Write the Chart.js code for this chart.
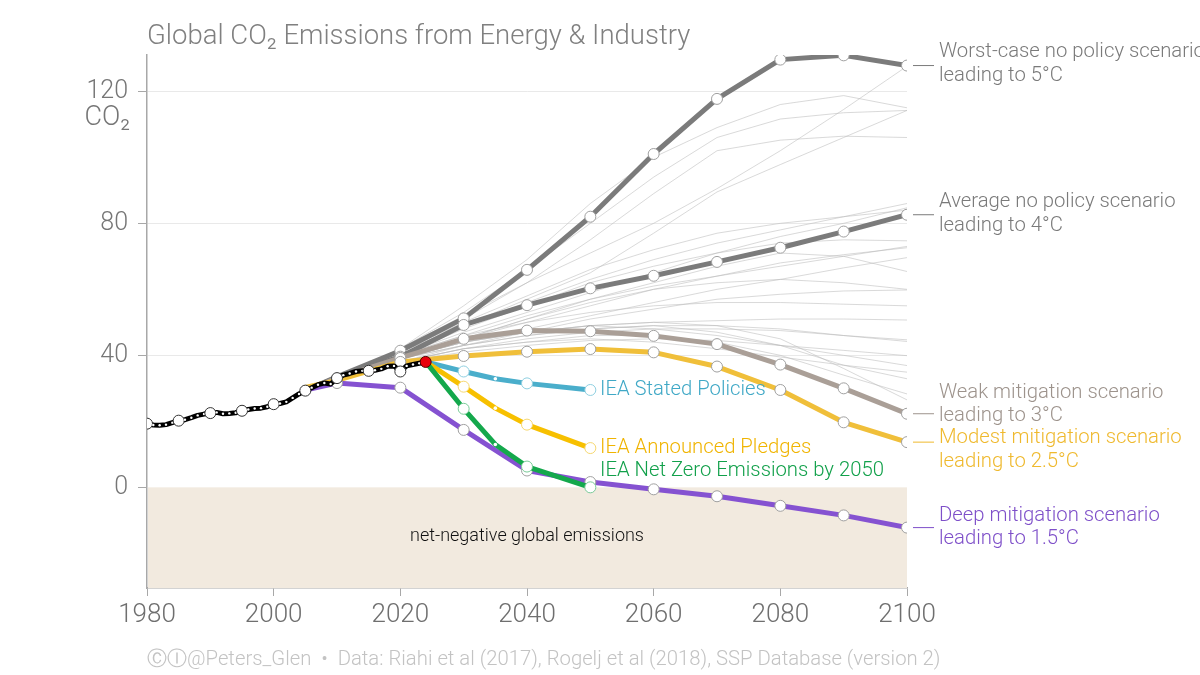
<!DOCTYPE html>
<html>
<head>
<meta charset="utf-8">
<script src="https://cdn.jsdelivr.net/npm/chart.js@4.4.1/dist/chart.umd.min.js"></script>
<style>
  html, body { margin: 0; padding: 0; background: #ffffff; }
  #wrap { width: 1200px; height: 675px; position: relative; }
  canvas { display: block; }
</style>
</head>
<body>
<div id="wrap"><canvas id="c" width="1200" height="675"></canvas></div>
<script>
// ---------------- DATA ----------------
const histYears = [1980,1981,1982,1983,1984,1985,1986,1987,1988,1989,1990,1991,1992,1993,1994,1995,1996,1997,1998,1999,2000,2001,2002,2003,2004,2005,2006,2007,2008,2009,2010,2011,2012,2013,2014,2015,2016,2017,2018,2019,2020,2021,2022,2023,2024];
const histValues = [19.3,18.9,18.8,19.0,19.6,20.2,20.5,21.1,21.8,22.2,22.5,22.7,22.3,22.4,22.6,23.2,23.6,23.9,24.0,24.4,25.2,25.4,25.9,27.1,28.3,29.3,30.2,31.1,31.6,31.3,33.1,34.0,34.5,35.1,35.3,35.3,35.5,35.9,36.7,36.8,35.1,36.8,37.2,37.6,38.0];

const sspYears = [2005,2010,2020,2030,2040,2050,2060,2070,2080,2090,2100];
const worstCase = [29.3,33.5,41.4,51.2,65.9,82.0,101.0,117.7,129.6,130.9,127.8];
const avgNoPolicy = [29.3,33.3,39.6,49.2,55.2,60.3,64.1,68.3,72.6,77.5,82.6];
const weakMitigation = [29.3,33.0,39.2,45.0,47.5,47.3,45.9,43.4,37.2,30.0,22.3];
const modestMitigation = [30.3,32.4,38.0,39.8,41.1,41.9,40.9,36.6,29.5,19.7,13.7];
const deepMitigation = [29.5,31.6,30.2,17.4,5.1,1.6,-0.6,-2.7,-5.6,-8.5,-12.2];

const ieaYears = [2024,2030,2035,2040,2050];
const ieaStated = [38.0,35.1,32.9,31.5,29.5];
const ieaPledges = [38.0,30.5,24.0,19.0,11.9];
const ieaNetZero = [38.0,23.8,13.0,6.3,0.0];

const fanYears = [2010,2020,2030,2040,2050,2060,2070,2080,2090,2100];
const fan01 = [33,42,52,62,71,80,90.5,102,114.5,127.6];
const fan02 = [33,42,55,69,86,100,109,116,118.7,115.0];
const fan03 = [33,42,53,66,80,94,106,111.6,113.5,114.2];
const fan04 = [33,41,51,62,75,89,102,105.2,106.4,106.0];
const fan05 = [33,41,49,57,65,77,89.5,97.8,106,114.2];
const fan06 = [33,41,49,56,63,69,74,78,82,86.0];
const fan07 = [33,40,47,53,59,65,71,76,80,84.7];
const fan08 = [33,40,48,55,62,67,71,74,75,74.7];
const fan09 = [33,39,45,50,55,60,64,68,70.5,72.6];
const fan10 = [33,39,45,51,57,62,67,71,70,65.4];
const fan11 = [33,39,44,48,52,56,60,63,66.5,69.6];
const fan12 = [33,38,43,47,51,54,57,58.5,59.5,59.8];
const fan13 = [33,39,44,47,49,50,50.5,51,51,50.7];
const fan14 = [33,38,42,45,47,48,48,47.5,46,44.7];
const fan15 = [33,39,43,46,48,49,49,48,46,44.2];
const fan16 = [33,38,41,43,44.5,45,44.5,43,41.5,39.9];
const fan17 = [33,39,44,47,49,48,46,43,40,36.9];
const fan18 = [33,38,42,44,45,44,42,39.5,37,34.9];
const fan19 = [33,39,43,46,48,49,47,43,37,32.9];
const fan20 = [33,38,42,44,46,46,44,40,34,28.3];
const fan21 = [33,39,44,47,49,50,49,45,36,26.5];
const fan22 = [33,40,46,52,57,61,64,67,70,73.0];
const fan23 = [33,41,50,58,66,72,77,80,82,84.0];
const fan24 = [33,40,46,50,53,55,56,56,55.5,55.0];
const fan25 = [33,39,45,51,56,60,62,63,62,60.0];
const fanSeries = [fan01,fan02,fan03,fan04,fan05,fan06,fan07,fan08,fan09,fan10,fan11,fan12,fan13,fan14,fan15,fan16,fan17,fan18,fan19,fan20,fan21,fan22,fan23,fan24,fan25];

const xTicks = [1980,2000,2020,2040,2060,2080,2100];
const yTicks = [0,40,80,120];

// ---------------- HELPERS ----------------
const pts = (xs, ys) => xs.map((x, i) => ({ x: x, y: ys[i] }));
const FONT = "Roboto, 'Liberation Sans', 'DejaVu Sans', sans-serif";
const W = '300 ';

function sspDataset(values, color, order, minPointYear) {
  return {
    data: pts(sspYears, values),
    borderColor: color,
    borderWidth: 5,
    pointRadius: ctx => (ctx.raw && ctx.raw.x >= minPointYear) ? 5.5 : 0,
    pointBackgroundColor: '#ffffff',
    pointBorderColor: '#a0a0a0',
    pointBorderWidth: 1,
    tension: 0,
    order: order
  };
}
function ieaDataset(values, color, ptBorder, order) {
  return {
    data: pts(ieaYears, values),
    borderColor: color,
    borderWidth: 5,
    pointRadius: ctx => {
      if (!ctx.raw) return 0;
      if (ctx.raw.x === 2024) return 0;
      if (ctx.raw.x === 2035) return 1.8;
      return 5.5;
    },
    pointBackgroundColor: '#ffffff',
    pointBorderColor: ctx => (ctx.raw && ctx.raw.x === 2035) ? 'rgba(0,0,0,0)' : ptBorder,
    pointBorderWidth: 1,
    tension: 0,
    order: order
  };
}

const datasets = [];
fanSeries.forEach(s => datasets.push({
  data: pts(fanYears, s),
  borderColor: 'rgba(185,185,185,0.55)',
  borderWidth: 1,
  pointRadius: 0,
  tension: 0,
  order: 100
}));
datasets.push(sspDataset(worstCase, '#7b7b7b', 60, 2020));
datasets.push(sspDataset(avgNoPolicy, '#7b7b7b', 59, 2020));
datasets.push(sspDataset(weakMitigation, '#aa9f97', 58, 2020));
datasets.push(sspDataset(modestMitigation, '#f0bf3a', 57, 2020));
datasets.push(sspDataset(deepMitigation, '#8552d1', 56, 2010));
datasets.push(ieaDataset(ieaStated, '#4aaecb', '#8fcfe0', 30));
datasets.push(ieaDataset(ieaPledges, '#f7c000', '#f5d770', 29));
datasets.push(ieaDataset(ieaNetZero, '#14a84c', '#7acb98', 28));
// historical
datasets.push({
  data: pts(histYears, histValues),
  borderColor: '#000000',
  borderWidth: 5,
  tension: 0,
  pointRadius: ctx => {
    if (!ctx.raw) return 0;
    const y = ctx.raw.x;
    if (y === 2024) return 0;
    return (y % 5 === 0 && y <= 2020) ? 5.5 : 1.2;
  },
  pointBackgroundColor: '#ffffff',
  pointBorderColor: ctx => (ctx.raw && ctx.raw.x % 5 === 0) ? '#333333' : 'rgba(0,0,0,0)',
  pointBorderWidth: 1,
  order: 5
});
// latest year (red)
datasets.push({
  data: pts([2024], [38.0]),
  showLine: false,
  pointRadius: 5.5,
  pointBackgroundColor: '#e8000b',
  pointBorderColor: '#550000',
  pointBorderWidth: 1,
  order: 1
});

// ---------------- TEXT / DECOR PLUGIN ----------------
const rightLabels = [
  { series: worstCase, color: '#7a7a7a', lines: ['Worst-case no policy scenario', 'leading to 5°C'], dy: [-14, 10] },
  { series: avgNoPolicy, color: '#7a7a7a', lines: ['Average no policy scenario', 'leading to 4°C'], dy: [-13, 11] },
  { series: weakMitigation, color: '#9d938c', lines: ['Weak mitigation scenario', 'leading to 3°C'], dy: [-21, 2] },
  { series: modestMitigation, color: '#efb92e', lines: ['Modest mitigation scenario', 'leading to 2.5°C'], dy: [-4, 20] },
  { series: deepMitigation, color: '#7e4fc9', lines: ['Deep mitigation scenario', 'leading to 1.5°C'], dy: [-12, 11] }
];
const ieaLabels = [
  { text: 'IEA Stated Policies', color: '#3fa8c6', y: 390 },
  { text: 'IEA Announced Pledges', color: '#f0b400', y: 448 },
  { text: 'IEA Net Zero Emissions by 2050', color: '#11a04a', y: 471 }
];

const decor = {
  id: 'decor',
  beforeDatasetsDraw(chart) {
    const { ctx, chartArea, scales } = chart;
    const y0 = scales.y.getPixelForValue(0);
    ctx.save();
    ctx.fillStyle = '#f2eadf';
    ctx.fillRect(chartArea.left + 1, y0, chartArea.right - chartArea.left - 1, chartArea.bottom - y0);
    ctx.restore();
  },
  afterDraw(chart) {
    const { ctx, scales } = chart;
    const xs = scales.x, ys = scales.y;
    ctx.save();
    ctx.textBaseline = 'middle';
    // title
    ctx.fillStyle = '#808080';
    ctx.font = W + '27.5px ' + FONT;
    ctx.textAlign = 'left';
    ctx.fillText('Global CO\u2082 Emissions from Energy & Industry', 147, 37);
    // y unit
    ctx.font = W + '27px ' + FONT;
    ctx.fillStyle = '#767676';
    ctx.textAlign = 'right';
    ctx.fillText('CO\u2082', 130, 118);
    // right labels
    ctx.textAlign = 'left';
    ctx.font = W + '20.3px ' + FONT;
    const xEnd = xs.getPixelForValue(2100);
    rightLabels.forEach(l => {
      const yv = ys.getPixelForValue(l.series[l.series.length - 1]);
      ctx.strokeStyle = l.color;
      ctx.lineWidth = 1;
      ctx.beginPath();
      ctx.moveTo(xEnd + 6, yv);
      ctx.lineTo(xEnd + 27, yv);
      ctx.stroke();
      ctx.fillStyle = l.color;
      l.lines.forEach((t, i) => ctx.fillText(t, xEnd + 32, yv + l.dy[i]));
    });
    // IEA labels
    ieaLabels.forEach(l => {
      ctx.fillStyle = l.color;
      ctx.fillText(l.text, 600, l.y);
    });
    // net negative
    ctx.fillStyle = '#111111';
    ctx.font = W + '18px ' + FONT;
    ctx.textAlign = 'center';
    ctx.fillText('net-negative global emissions', 527, 536);
    // footer
    ctx.fillStyle = '#c3c3c3';
    ctx.font = W + '20.3px ' + FONT;
    ctx.textAlign = 'left';
    ctx.fillText('\u24B8\u24BE@Peters_Glen  \u2022  Data: Riahi et al (2017), Rogelj et al (2018), SSP Database (version 2)', 147, 660);
    ctx.restore();
  }
};

// ---------------- CHART ----------------
new Chart(document.getElementById('c'), {
  type: 'line',
  data: { datasets: datasets },
  plugins: [decor],
  options: {
    responsive: false,
    animation: false,
    devicePixelRatio: 1,
    layout: { padding: { top: 55, right: 293, left: 0, bottom: 0 } },
    plugins: { legend: { display: false }, tooltip: { enabled: false }, title: { display: false } },
    elements: { line: { borderCapStyle: 'round', borderJoinStyle: 'round' } },
    scales: {
      x: {
        type: 'linear',
        min: 1980,
        max: 2100,
        afterBuildTicks: s => { s.ticks = xTicks.map(v => ({ value: v })); },
        afterFit: s => { s.height = 87; },
        ticks: { color: '#6f6f6f', font: { size: 26, family: FONT, weight: '300' }, padding: 4, maxRotation: 0, callback: v => String(v) },
        grid: { drawOnChartArea: false, drawTicks: true, tickLength: 8, tickColor: '#a8a8a8', color: '#a8a8a8' },
        border: { color: '#a8a8a8', width: 1.5 }
      },
      y: {
        type: 'linear',
        min: -30.5,
        max: 131,
        afterBuildTicks: s => { s.ticks = yTicks.map(v => ({ value: v })); },
        afterFit: s => { s.width = 147; },
        ticks: { color: '#767676', font: { size: 25, family: FONT, weight: '300' }, padding: 10, callback: v => String(v) },
        grid: {
          color: c => (c.tick && c.tick.value === 0) ? 'rgba(0,0,0,0)' : '#e9e9e9',
          tickColor: '#a8a8a8',
          tickLength: 9,
          lineWidth: 1
        },
        border: { color: '#a8a8a8', width: 1.5 }
      }
    }
  }
});
</script>
</body>
</html>
